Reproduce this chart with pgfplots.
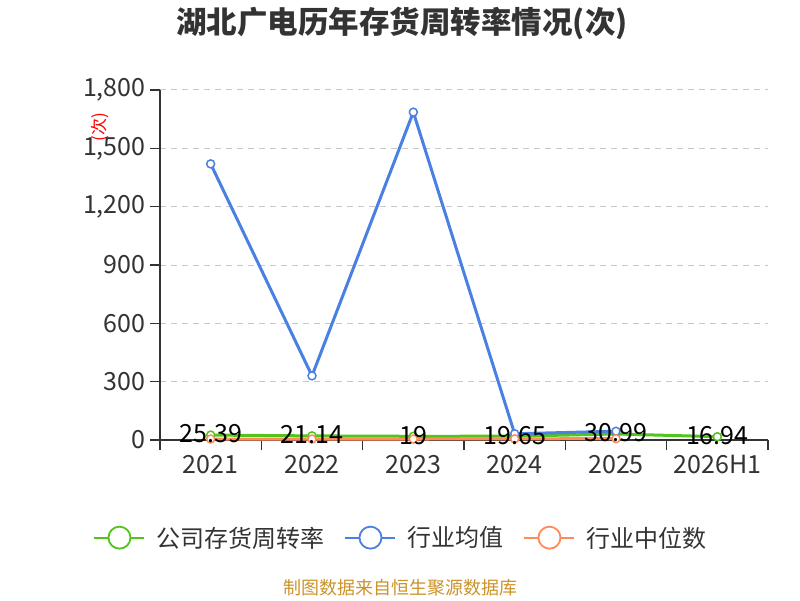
\documentclass[border=0pt]{standalone}
\usepackage{fontspec}
\usepackage{pgfplots}
\pgfplotsset{compat=1.18}
\setmainfont{Noto Sans CJK SC}
\definecolor{cgreen}{RGB}{82,196,26}
\definecolor{cblue}{RGB}{74,128,226}
\definecolor{corange}{RGB}{255,138,90}
\definecolor{ctext}{RGB}{51,51,51}
\definecolor{cgold}{RGB}{204,146,40}
\definecolor{cgrid}{RGB}{200,200,200}
\begin{document}
\begin{tikzpicture}[x=1pt,y=1pt]
\path[use as bounding box] (0,0) rectangle (800,600);
\node[font=\fontsize{30.5}{34}\selectfont\bfseries, text=ctext] at (402,577) {湖北广电历年存货周转率情况(次)};
\node[font=\fontsize{17}{20}\selectfont, text=red, rotate=90] at (100,473) {(次)};
\node[font=\fontsize{18}{21}\selectfont, text=cgold] at (400,12) {制图数据来自恒生聚源数据库};
\begin{axis}[
  at={(160pt,160pt)}, anchor=south west,
  scale only axis, width=608pt, height=350pt,
  xmin=-0.5, xmax=5.5, ymin=0, ymax=1800,
  xtick={0,...,5},
  xticklabels={2021,2022,2023,2024,2025,2026H1},
  xtick style={draw=none},
  extra x ticks={-0.5,0.5,1.5,2.5,3.5,4.5,5.5},
  extra x tick labels={},
  extra x tick style={xtick style={draw=ctext, line width=1.2pt}, grid=none},
  ytick={0,300,...,1800},
  ytick style={draw=ctext, line width=1.2pt},
  tick align=outside, major tick length=10pt,
  axis x line*=bottom, axis y line*=left,
  axis line style={draw=ctext, line width=1.2pt, -},
  ymajorgrids, grid style={cgrid, line width=1pt, dash pattern=on 6pt off 5pt},
  scaled y ticks=false,
  /pgf/number format/fixed,
  /pgf/number format/1000 sep={,},
  /pgf/number format/assume math mode=true,
  tick label style={font=\fontsize{25}{29}\selectfont, text=ctext},
  yticklabel style={xshift=-1pt},
  xticklabel style={yshift=-2pt},
  clip=false,
  legend style={at={(0.3947,-0.279)}, anchor=center, draw=none, fill=none,
    legend columns=3, font=\fontsize{24}{28}\selectfont, text=ctext,
    nodes={inner xsep=0pt},
    /tikz/every odd column/.append style={column sep=11pt},
    /tikz/every even column/.append style={column sep=20pt}},
  legend image code/.code={
    \draw[#1, line width=2pt, mark=none] (0pt,0pt) -- (50pt,0pt);
    \draw[#1, fill=white, line width=1.8pt, mark=none] (25pt,0pt) circle (11pt);
  },
]
\addplot[cgreen, line width=3pt, mark=*, mark size=4pt, mark options={fill=white, draw=cgreen, line width=1.5pt}]
  table {
x y
0 25.39
1 21.14
2 19
3 19.65
4 30.99
5 16.94
};
\addlegendentry{公司存货周转率}
\addplot[cblue, line width=3pt, mark=*, mark size=4pt, mark options={fill=white, draw=cblue, line width=1.5pt}]
  table {
x y
0 1420
1 330
2 1686
3 32
4 45
};
\addlegendentry{行业均值}
\addplot[corange, line width=3pt, mark=*, mark size=4pt, mark options={fill=white, draw=corange, line width=1.5pt}]
  table {
x y
0 5
1 5
2 5
3 6
4 7
};
\addlegendentry{行业中位数}
\addplot[draw=none, mark=none, forget plot, nodes near coords, point meta=explicit symbolic,
  nodes near coords style={anchor=center, yshift=1pt, text=black, font=\fontsize{25}{29}\selectfont}]
  table[meta=label] {
x y label
0 25.39 25.39
1 21.14 21.14
2 19 19
3 19.65 19.65
4 30.99 30.99
5 16.94 16.94
};
\end{axis}
\end{tikzpicture}
\end{document}
